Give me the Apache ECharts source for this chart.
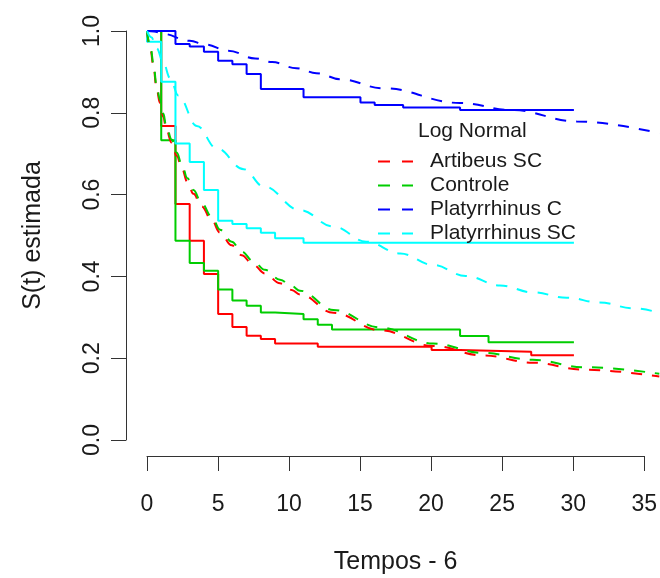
<!DOCTYPE html>
<html>
<head>
<meta charset="utf-8">
<script src="https://cdn.jsdelivr.net/npm/echarts@6/dist/echarts.min.js"></script>
<style>html,body{margin:0;padding:0;background:#fff}#c{width:660px;height:578px}</style>
</head>
<body>
<div id="c"></div>
<script>
// ---- Data ----
const groupNames = ['Artibeus SC', 'Controle', 'Platyrrhinus C', 'Platyrrhinus SC'];
const groupColors = ['#FF0000', '#00CD00', '#0000FF', '#00FFFF'];

// Kaplan-Meier step estimates (time, survival after that time)
const kmTimesArtibeus = [0, 1, 2, 3, 4, 5, 6, 7, 8, 9, 12, 20, 22, 27, 30];
const kmSurvArtibeus  = [1, 0.768, 0.577, 0.487, 0.406, 0.308, 0.276, 0.255, 0.247, 0.236, 0.228, 0.220, 0.216, 0.207, 0.207];

const kmTimesControle = [0, 1, 2, 3, 4, 5, 6, 7, 8, 9, 11, 12, 13, 22, 24, 30];
const kmSurvControle  = [1, 0.733, 0.487, 0.433, 0.414, 0.368, 0.341, 0.328, 0.312, 0.308, 0.295, 0.282, 0.270, 0.254, 0.239, 0.239];

const kmTimesPlatyC = [0, 2, 3, 4, 5, 6, 7, 8, 11, 15, 16, 18, 22, 30];
const kmSurvPlatyC  = [1, 0.968, 0.962, 0.949, 0.927, 0.919, 0.895, 0.858, 0.838, 0.825, 0.819, 0.813, 0.807, 0.807];

const kmTimesPlatySC = [0, 0, 1, 2, 3, 4, 5, 6, 7, 8, 9, 11, 30];
const kmSurvPlatySC  = [1, 0.974, 0.876, 0.725, 0.680, 0.611, 0.536, 0.528, 0.518, 0.507, 0.493, 0.482, 0.482];

// Log-normal fitted curves
const lnTimesArtibeus = [0, 0.26, 0.45, 0.68, 0.91, 1.15, 1.34, 1.73, 2.09, 2.44, 2.84, 3.26, 3.84, 4.54, 5.13, 5.95, 6.65, 7.47, 8.29, 9.35, 10.17, 10.75, 13.1, 16.4, 20.1, 23.6, 27.1, 30.7, 36];
const lnSurvArtibeus  = [1, 0.952, 0.913, 0.858, 0.824, 0.790, 0.761, 0.727, 0.695, 0.665, 0.631, 0.602, 0.571, 0.538, 0.507, 0.476, 0.452, 0.428, 0.407, 0.383, 0.367, 0.356, 0.311, 0.268, 0.230, 0.207, 0.189, 0.172, 0.155];

const lnTimesControle = [0, 0.26, 0.45, 0.68, 0.91, 1.15, 1.34, 1.73, 2.09, 2.44, 2.84, 3.26, 3.84, 4.54, 5.13, 5.95, 6.65, 7.47, 8.29, 9.35, 10.17, 10.75, 13.1, 16.4, 20.1, 23.6, 27.1, 30.7, 36];
const lnSurvControle  = [1, 0.958, 0.920, 0.865, 0.832, 0.798, 0.769, 0.735, 0.703, 0.674, 0.640, 0.611, 0.579, 0.546, 0.514, 0.485, 0.461, 0.437, 0.416, 0.392, 0.376, 0.365, 0.318, 0.275, 0.236, 0.213, 0.196, 0.178, 0.162];

const lnTimesPlatyC = [0, 0.5, 1.1, 3.0, 4.1, 5.7, 7.6, 8.8, 10.5, 11.9, 13.6, 16.6, 22, 25.6, 30.2, 36];
const lnSurvPlatyC  = [1, 0.999, 0.993, 0.976, 0.967, 0.952, 0.933, 0.924, 0.909, 0.897, 0.882, 0.860, 0.824, 0.807, 0.779, 0.750];

const lnTimesPlatySC = [0, 0.3, 0.68, 1.15, 1.62, 2.2, 3.5, 4.9, 6.8, 8.2, 10.75, 13.1, 15.4, 17.8, 20.1, 22.4, 24.8, 27.1, 29.5, 31.8, 34.2, 36];
const lnSurvPlatySC  = [1, 0.985, 0.958, 0.922, 0.885, 0.842, 0.768, 0.713, 0.662, 0.620, 0.562, 0.522, 0.485, 0.456, 0.428, 0.401, 0.378, 0.361, 0.348, 0.336, 0.322, 0.311];

const xTicks = [0, 5, 10, 15, 20, 25, 30, 35];
const yTicks = [0.0, 0.2, 0.4, 0.6, 0.8, 1.0];

// ---- Build chart ----
const FONT = '"Liberation Sans", Arial, Helvetica, sans-serif';
const TXT = '#1a1a1a';
const AX = '#333333';
function zip(a, b) { return a.map((v, i) => [v, b[i]]); }

const kmSets = [
  zip(kmTimesArtibeus, kmSurvArtibeus),
  zip(kmTimesControle, kmSurvControle),
  zip(kmTimesPlatyC, kmSurvPlatyC),
  zip(kmTimesPlatySC, kmSurvPlatySC)
];
const lnSets = [
  zip(lnTimesArtibeus, lnSurvArtibeus),
  zip(lnTimesControle, lnSurvControle),
  zip(lnTimesPlatyC, lnSurvPlatyC),
  zip(lnTimesPlatySC, lnSurvPlatySC)
];

const series = [];
kmSets.forEach((d, i) => {
  series.push({
    name: 'KM ' + groupNames[i], type: 'line', step: 'end', data: d,
    xAxisIndex: 0, yAxisIndex: 0, symbol: 'none', clip: false,
    lineStyle: { color: groupColors[i], width: 2 }, itemStyle: { color: groupColors[i] },
    emphasis: { disabled: true }
  });
});
lnSets.forEach((d, i) => {
  series.push({
    name: groupNames[i], type: 'line', smooth: 0.4, smoothMonotone: 'x', data: d,
    xAxisIndex: 0, yAxisIndex: 0, symbol: 'none', clip: false,
    lineStyle: { color: groupColors[i], width: 2, type: [11, 10] }, itemStyle: { color: groupColors[i] },
    emphasis: { disabled: true }
  });
});

const chart = echarts.init(document.getElementById('c'), null, { renderer: 'canvas' });
chart.setOption({
  animation: false,
  backgroundColor: '#ffffff',
  textStyle: { fontFamily: FONT },
  title: {
    text: 'Log Normal', left: 418, top: 121, padding: 0,
    textStyle: { fontSize: 21, fontWeight: 'normal', color: TXT, fontFamily: FONT }
  },
  legend: {
    data: groupNames, orient: 'vertical', left: 377, top: 151,
    itemWidth: 35, itemHeight: 14, itemGap: 3, padding: 0,
    itemStyle: { opacity: 0 },
    lineStyle: { width: 2, type: [12, 12] },
    textStyle: { fontSize: 21, color: TXT, fontFamily: FONT, padding: [0, 0, 0, 12] },
    selectedMode: false
  },
  grid: [
    { left: 147, top: 31, width: 513, height: 409 },
    { left: 126, top: 31, width: 1, height: 409 },
    { left: 147, top: 446, width: 498, height: 10 }
  ],
  xAxis: [
    { gridIndex: 0, type: 'value', min: 0, max: 36.05, show: false },
    { gridIndex: 1, type: 'value', min: 0, max: 1, show: false },
    {
      gridIndex: 2, type: 'value', position: 'bottom',
      min: xTicks[0], max: xTicks[xTicks.length - 1], interval: 5,
      axisLine: { show: true, lineStyle: { color: AX, width: 1 } },
      axisTick: { show: true, length: 15, lineStyle: { color: AX, width: 1 } },
      splitLine: { show: false },
      axisLabel: { fontSize: 23, color: TXT, margin: 37, fontFamily: FONT },
      name: 'Tempos - 6', nameLocation: 'middle', nameGap: 94,
      nameTextStyle: { fontSize: 25, color: TXT, fontFamily: FONT }
    }
  ],
  yAxis: [
    { gridIndex: 0, type: 'value', min: 0, max: 1, show: false },
    {
      gridIndex: 1, type: 'value', position: 'left',
      min: yTicks[0], max: yTicks[yTicks.length - 1], interval: 0.2,
      axisLine: { show: true, lineStyle: { color: AX, width: 1 } },
      axisTick: { show: true, length: 15, lineStyle: { color: AX, width: 1 } },
      splitLine: { show: false },
      axisLabel: { fontSize: 23, color: TXT, margin: 22, rotate: 90, fontFamily: FONT,
                   formatter: v => v.toFixed(1) },
      name: 'S(t) estimada', nameLocation: 'middle', nameGap: 80, nameRotate: 90,
      nameTextStyle: { fontSize: 25, color: TXT, fontFamily: FONT }
    },
    { gridIndex: 2, type: 'value', min: 0, max: 1, show: false }
  ],
  series: series
});
</script>
</body>
</html>
